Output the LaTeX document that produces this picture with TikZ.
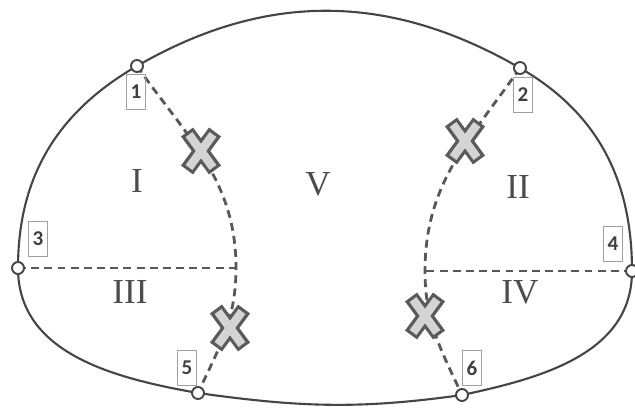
\documentclass[tikz,border=0pt]{standalone}
\usepackage{fontspec}
\setmainfont{Liberation Serif}
\newfontfamily\carlito{Carlito}
\usepackage{tikz}
\usetikzlibrary{positioning}

\definecolor{linegray}{HTML}{454545}
\definecolor{crossedge}{HTML}{5A5A5A}
\definecolor{crossfill}{HTML}{D4D4D4}

\tikzset{
  outline/.style={line width=1.2pt, linegray},
  cutline/.style={line width=1.6pt, linegray!90, dash pattern=on 4.5pt off 3pt},
  endpt/.style={circle, draw=linegray, fill=white, line width=1.1pt, minimum size=0.24cm, inner sep=0pt},
  numbox/.style={draw=gray!75, line width=0.5pt, minimum width=0.38cm, minimum height=0.7cm, inner sep=0pt, font=\carlito\bfseries\fontsize{12}{12}\selectfont, text=black!75},
  region/.style={font=\fontsize{20}{24}\selectfont, text=black!70},
  xmark/.pic={
    \draw[line width=8.5pt, crossedge] (-14,-19) -- (14,19) (-14,19) -- (14,-19);
    \draw[line width=4.8pt, crossfill] (-12,-16.5) -- (12,16.5) (-12,16.5) -- (12,-16.5);
  }
}

\begin{document}
\begin{tikzpicture}[x=0.02cm, y=0.02cm]
    \useasboundingbox (0,0) rectangle (635,413);

    % Points on the boundary
    \coordinate (p1) at (137,347);
    \coordinate (p2) at (520,345);
    \coordinate (p3) at (18,145);
    \coordinate (p4) at (632,142);
    \coordinate (p5) at (198,20);
    \coordinate (p6) at (462,18);

    % Junctions of the cuts
    \coordinate (j1) at (236,145);
    \coordinate (j2) at (425,142);

    % Boundary
    \draw[outline] (p1) to[out=30, in=150] (p2)
        to[out=-30, in=90] (p4)
        to[out=-90, in=12] (p6)
        to[out=188, in=-8] (p5)
        to[out=170, in=-90] (p3)
        to[out=90, in=210] (p1);

    % Cuts
    \draw[cutline] (p1) to[out=-55, in=90] (j1) to[out=-90, in=65] (p5);
    \draw[cutline] (p2) to[out=-125, in=90] (j2) to[out=-90, in=115] (p6);
    \draw[cutline] (p3) -- (j1);
    \draw[cutline] (p4) -- (j2);

    % Crossings
    \pic at (201,262) {xmark};
    \pic at (465,272) {xmark};
    \pic at (230,85) {xmark};
    \pic at (425,97) {xmark};

    % End points
    \foreach \i in {1,...,6} {
        \node[endpt] (n\i) at (p\i) {};
    }

    % Number boxes
    \node[numbox] (b1) at (136,321) {1};
    \node[numbox] (b2) at (523,318) {2};
    \node[numbox] (b3) at (38,174) {3};
    \node[numbox] (b4) at (613,169) {4};
    \node[numbox] (b5) at (187,45) {5};
    \node[numbox] (b6) at (472,45) {6};

    % Regions
    \node[region] (r1) at (137,232) {I};
    \node[region] (r5) at (318,229) {V};
    \node[region] (r2) at (518,226) {II};
    \node[region] (r3) at (130,121) {III};
    \node[region] (r4) at (520,121) {IV};
\end{tikzpicture}
\end{document}
